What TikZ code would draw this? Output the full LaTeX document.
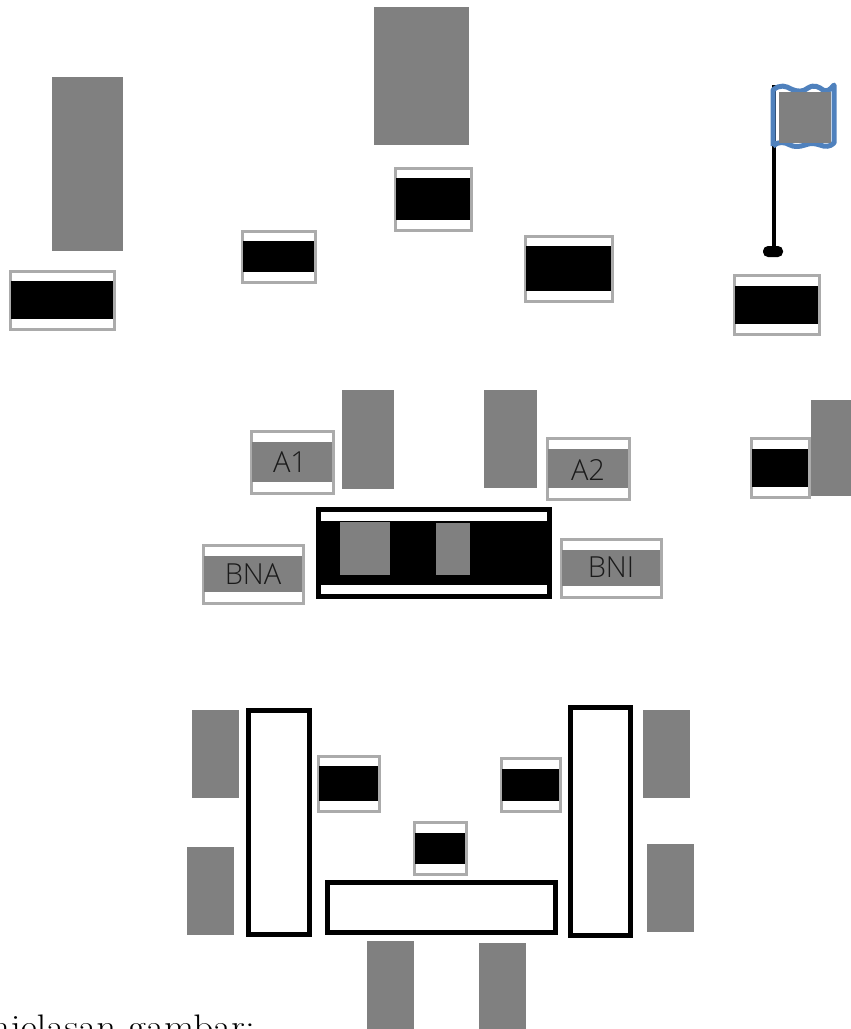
\documentclass[tikz,border=0pt]{standalone}
\usepackage{fontspec}
\usepackage{xcolor}
\usetikzlibrary{positioning}
\newfontfamily\tagfont{Open Sans Light}
\definecolor{blockgray}{HTML}{808080}
\definecolor{framegray}{HTML}{ABABAB}
\definecolor{flagblue}{HTML}{4F81BD}
\definecolor{ink}{HTML}{1A1A1A}
\tikzset{
  block/.style={fill=blockgray},
  tagframe/.style={draw=framegray,fill=white,line width=3pt},
  stand/.style={draw=black,fill=white,line width=5pt},
  taglabel/.style={font=\tagfont\fontsize{29}{29}\selectfont,color=ink,inner sep=0pt}
}
\begin{document}
\begin{tikzpicture}[x=1pt,y=-1pt]
  \clip (0,0) rectangle (851,1029);
  \fill[white] (0,0) rectangle (851,1029);
  % gray blocks
  \foreach \xa/\ya/\xb/\yb in {52/77/123/251,374/7/469/145,342/390/394/489,484/390/537/488,
      811/400/851/496,192/710/239/798,187/847/234/935,643/710/690/798,647/844/694/932,
      367/941/414/1029,479/943/526/1029}
    \fill[block] (\xa,\ya) rectangle (\xb,\yb);
  % tags with a black band
  \foreach \xa/\ya/\xb/\yb/\ba/\bb in {10/271/114/329/281/319,242/231/315/282/241/272,
      395/168/471/230/178/220,525/236/612/301/246/291,734/275/819/334/286/324,
      751/438/809/497/449/487,318/756/379/811/766/801,501/758/560/811/769/801,
      414/822/466/874/833/864}{
    \draw[tagframe] (\xa,\ya) rectangle (\xb,\yb);
    \fill[black] (\xa+1,\ba) rectangle (\xb-1,\bb);
  }
  % tags with a gray band
  \foreach \xa/\ya/\xb/\yb/\ba/\bb in {251/431/333/493/442/482,547/438/629/499/449/488,
      203/545/303/603/556/592,561/539/661/597/550/586}{
    \draw[tagframe] (\xa,\ya) rectangle (\xb,\yb);
    \fill[block] (\xa+1,\ba) rectangle (\xb-1,\bb);
  }
  \node[taglabel] (a1) at (290,462) {A1};
  \node[taglabel] (a2) at (588,470) {A2};
  \node[taglabel] (bna) at (253,574) {BNA};
  \node[taglabel] (bni) at (611,567) {BNI};
  % panel
  \fill[black] (316,507) rectangle (552,599);
  \fill[white] (321,512) rectangle (547,521);
  \fill[white] (321,585) rectangle (547,594);
  \fill[block] (340,522) rectangle (390,575);
  \fill[block] (436,523) rectangle (470,575);
  % flag
  \draw[black,line width=4pt] (774,85) -- (774,250);
  \fill[black,rounded corners=5pt] (763,246) rectangle (783,257);
  \draw[flagblue,line width=5pt,line join=round]
    (773,146) -- (773,90)
    .. controls (780,84) and (786,86) .. (791,89)
    .. controls (798,92) and (803,92) .. (808,88)
    .. controls (814,84) and (819,87) .. (823,90)
    .. controls (827,92) and (830,90) .. (834,85)
    -- (834,143)
    .. controls (830,147) and (825,147) .. (820,145)
    .. controls (814,143) and (810,143) .. (805,145)
    .. controls (799,147) and (794,147) .. (790,145)
    .. controls (785,142) and (778,141) .. (773,146);
  \fill[block] (779,92) rectangle (831,143);
  % stands
  \draw[stand] (248,710) rectangle (309,934);
  \draw[stand] (570,707) rectangle (630,935);
  \draw[stand] (327,882) rectangle (555,932);
  \node[anchor=base east,inner sep=0pt,xscale=1.15,font=\fontsize{34}{34}\selectfont] (caption) at (255,1038) {njelasan gambar:};
\end{tikzpicture}
\end{document}
